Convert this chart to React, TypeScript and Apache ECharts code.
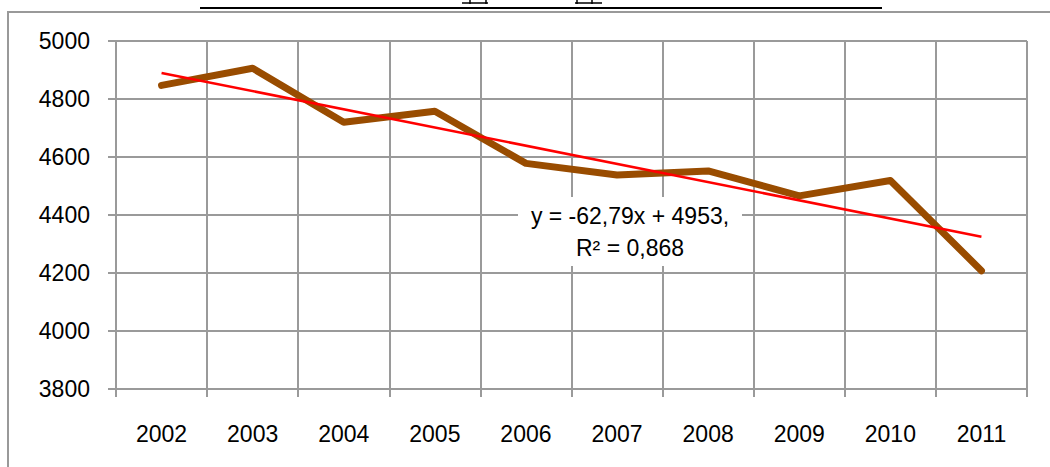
import React, { useEffect, useRef } from "react";
import * as echarts from "echarts";

const years = ["2002", "2003", "2004", "2005", "2006", "2007", "2008", "2009", "2010", "2011"];
const values = [4847, 4906, 4720, 4758, 4578, 4538, 4552, 4466, 4519, 4208];
const trendValues = [4890, null, null, null, null, null, null, null, null, 4325];
const trendLabel = ["y = -62,79x + 4953,", "R² = 0,868"];
const yMin = 3800;
const yMax = 5000;
const yStep = 200;

const FONT = "'Liberation Sans', Arial, sans-serif";
const GRID = "#9a9a9a";

export default function App() {
  const ref = useRef<HTMLDivElement>(null);
  useEffect(() => {
    document.body.style.margin = "0";
    const chart = echarts.init(ref.current!, null, { renderer: "svg" });
    chart.setOption({
      animation: false,
      backgroundColor: "#ffffff",
      grid: { left: 116, right: 23, top: 41, bottom: 78 },
      xAxis: {
        type: "category",
        data: years,
        boundaryGap: true,
        axisLine: { lineStyle: { color: GRID, width: 2 } },
        axisTick: { show: true, length: 8, lineStyle: { color: GRID, width: 2 } },
        splitLine: { show: true, lineStyle: { color: GRID, width: 2 } },
        axisLabel: { color: "#000", fontSize: 23, fontFamily: FONT, margin: 33 },
      },
      yAxis: {
        type: "value",
        min: yMin,
        max: yMax,
        interval: yStep,
        axisLine: { show: true, lineStyle: { color: GRID, width: 2 } },
        axisTick: { show: true, length: 8, lineStyle: { color: GRID, width: 2 } },
        splitLine: { show: true, lineStyle: { color: GRID, width: 2 } },
        axisLabel: {
          color: "#000",
          fontSize: 23,
          fontFamily: FONT,
          margin: 26,
          formatter: (v: number) => String(v),
        },
      },
      series: [
        {
          type: "line",
          data: values,
          symbol: "none",
          lineStyle: { color: "#994c00", width: 7, cap: "round", join: "round" },
          z: 3,
        },
        {
          type: "line",
          data: trendValues,
          connectNulls: true,
          symbol: "none",
          lineStyle: { color: "#ff0000", width: 2.5 },
          z: 4,
        },
      ],
      graphic: [
        { type: "line", shape: { x1: 8, y1: 12, x2: 1050, y2: 12 }, style: { stroke: "#999", lineWidth: 2 } },
        { type: "line", shape: { x1: 8, y1: 11, x2: 8, y2: 467 }, style: { stroke: "#999", lineWidth: 2 } },
        { type: "line", shape: { x1: 200, y1: 8, x2: 882, y2: 8 }, style: { stroke: "#000", lineWidth: 2 } },
        { type: "polyline", shape: { points: [[462, 3], [488, 3]] }, style: { stroke: "#000", lineWidth: 1.5, fill: null } },
        { type: "line", shape: { x1: 470, y1: 0, x2: 470, y2: 4 }, style: { stroke: "#000", lineWidth: 1.5 } },
        { type: "line", shape: { x1: 486, y1: 0, x2: 486, y2: 4 }, style: { stroke: "#000", lineWidth: 1.5 } },
        { type: "polyline", shape: { points: [[575, 3], [602, 3]] }, style: { stroke: "#000", lineWidth: 1.5, fill: null } },
        { type: "line", shape: { x1: 577, y1: 0, x2: 577, y2: 4 }, style: { stroke: "#000", lineWidth: 1.5 } },
        { type: "line", shape: { x1: 592, y1: 0, x2: 592, y2: 4 }, style: { stroke: "#000", lineWidth: 1.5 } },
        {
          type: "rect",
          shape: { x: 518, y: 197, width: 224, height: 69 },
          style: { fill: "#fff" },
          z: 2,
        },
        {
          type: "text",
          x: 630,
          y: 232,
          z: 5,
          style: {
            text: trendLabel.join("\n"),
            fontSize: 23,
            fontFamily: FONT,
            fill: "#000",
            align: "center",
            verticalAlign: "middle",
            lineHeight: 32,
          },
        },
      ],
    });
    return () => chart.dispose();
  }, []);
  return <div ref={ref} style={{ width: 1050, height: 467 }} />;
}
